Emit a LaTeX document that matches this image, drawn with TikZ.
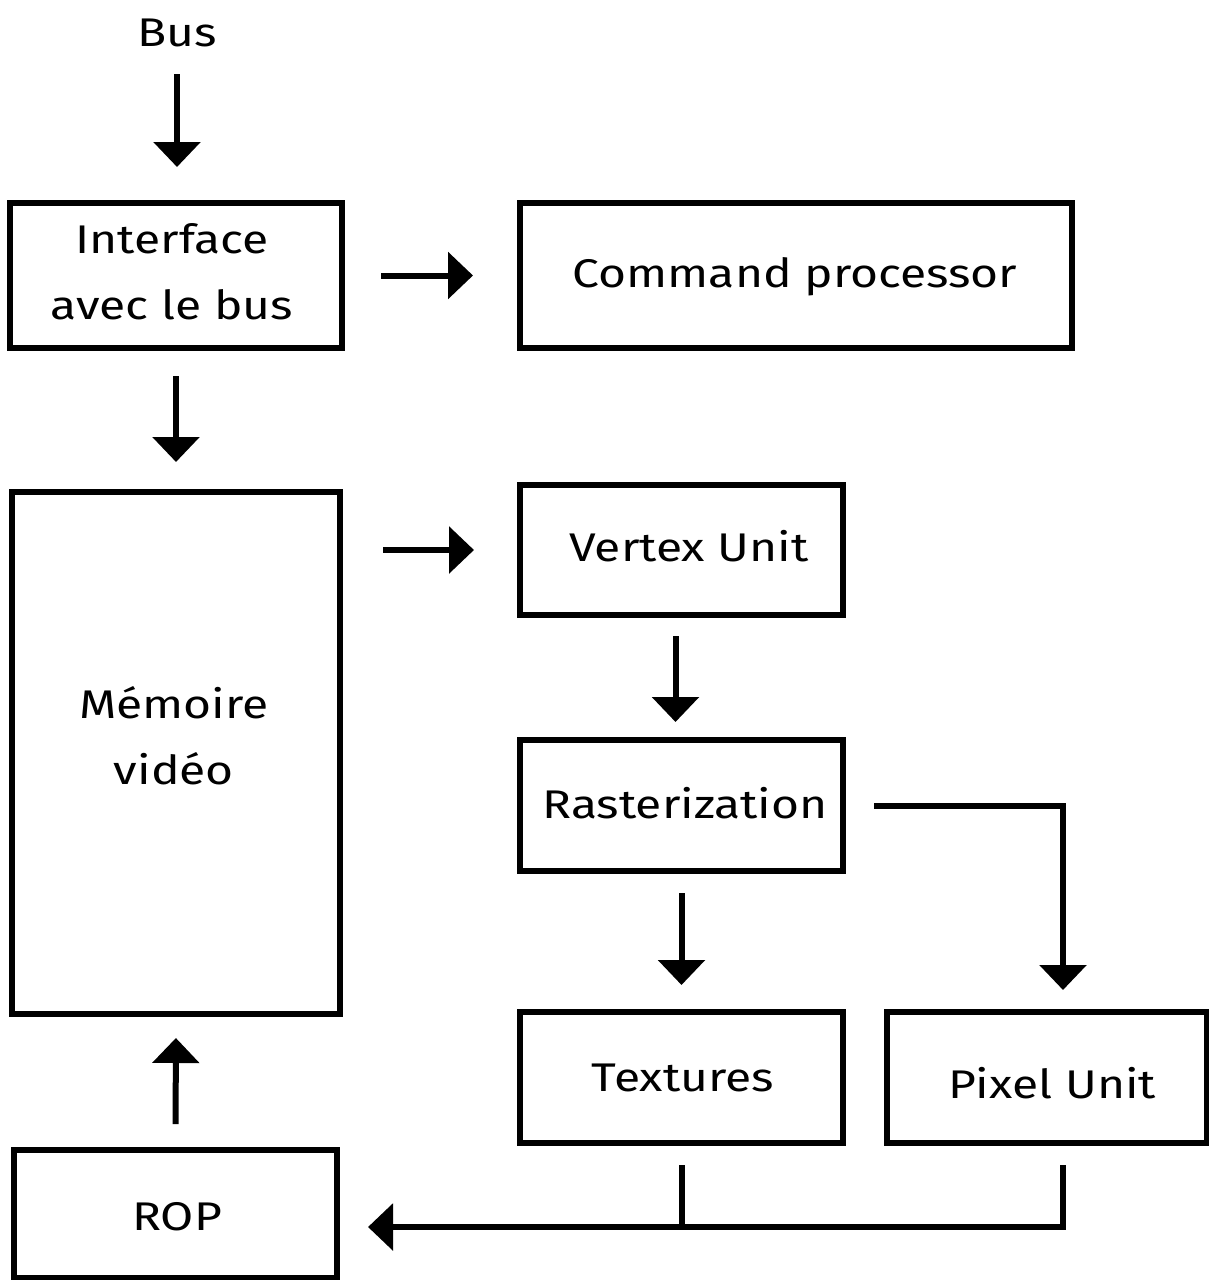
\documentclass[tikz,border=0pt]{standalone}
\usepackage{fontspec}
\setmainfont{Fira Sans}[FakeStretch=1.2]
\usetikzlibrary{arrows.meta,calc}
\begin{document}
\begin{tikzpicture}[x=1pt,y=-1pt,
  box/.style={draw,line width=6pt,minimum width=#1,inner sep=0pt},
  label/.style={align=center,inner sep=0pt,font=\fontsize{40}{66}\selectfont},
  link/.style={line width=6pt},
  flow/.style={line width=6pt,-{Triangle[length=25pt,width=46pt]}}]
\useasboundingbox (0,0) rectangle (1209,1280);
% blocks
\node[label] (bus) at (177,33) {Bus};
\node[box=332pt,minimum height=145pt] (iface) at (176,275.5) {};
\node[box=552pt,minimum height=145pt] (cmd) at (796,275.5) {};
\node[box=328pt,minimum height=522pt] (mem) at (176,753) {};
\node[box=323pt,minimum height=130pt] (vertex) at (681.5,550) {};
\node[box=323pt,minimum height=131pt] (raster) at (681.5,805.5) {};
\node[box=323pt,minimum height=131pt] (tex) at (681.5,1077.5) {};
\node[box=320pt,minimum height=131pt] (pix) at (1047,1077.5) {};
\node[box=323pt,minimum height=128pt] (rop) at (175.5,1214) {};
% block captions
\node[label] at (172,272) {Interface\\avec le bus};
\node[label] at (795,277) {Command processor};
\node[label] at (174,736) {Mémoire\\vidéo};
\node[label] at (689,546) {Vertex Unit};
\node[label] at (685,803) {Rasterization};
\node[label] at (683,1078) {Textures};
\node[label] at (1052,1083) {Pixel Unit};
\node[label] at (177,1217) {ROP};
\coordinate (pixin) at (1063,1012);
\coordinate (join) at (681.5,1227);
% connectors
\draw[flow,shorten <=27pt,shorten >=33pt] (bus.south) -- (bus.south |- iface.north);
\draw[flow,shorten <=36pt,shorten >=44pt] (iface.east) -- (cmd.west);
\draw[flow,shorten <=25pt,shorten >=27pt] (iface.south) -- (mem.north);
\draw[flow,shorten <=40pt,shorten >=43pt] (mem.east |- vertex.west) -- (vertex.west);
\draw[flow,shorten <=18pt,shorten >=15pt] ([xshift=-6pt]vertex.south) -- ([xshift=-6pt]raster.north);
\draw[flow,shorten <=19pt,shorten >=24pt] (raster.south) -- (tex.north);
\draw[flow,shorten <=28pt,shorten >=22pt] (raster.east) -| (pixin);
\draw[flow,shorten <=23pt,shorten >=21pt] (rop.north) -- (mem.south);
\draw[link,shorten <=19pt] (tex.south) -- (join);
\draw[flow,shorten <=19pt,shorten >=28pt] (pixin |- pix.south) |- (rop.east |- join);
\end{tikzpicture}
\end{document}
